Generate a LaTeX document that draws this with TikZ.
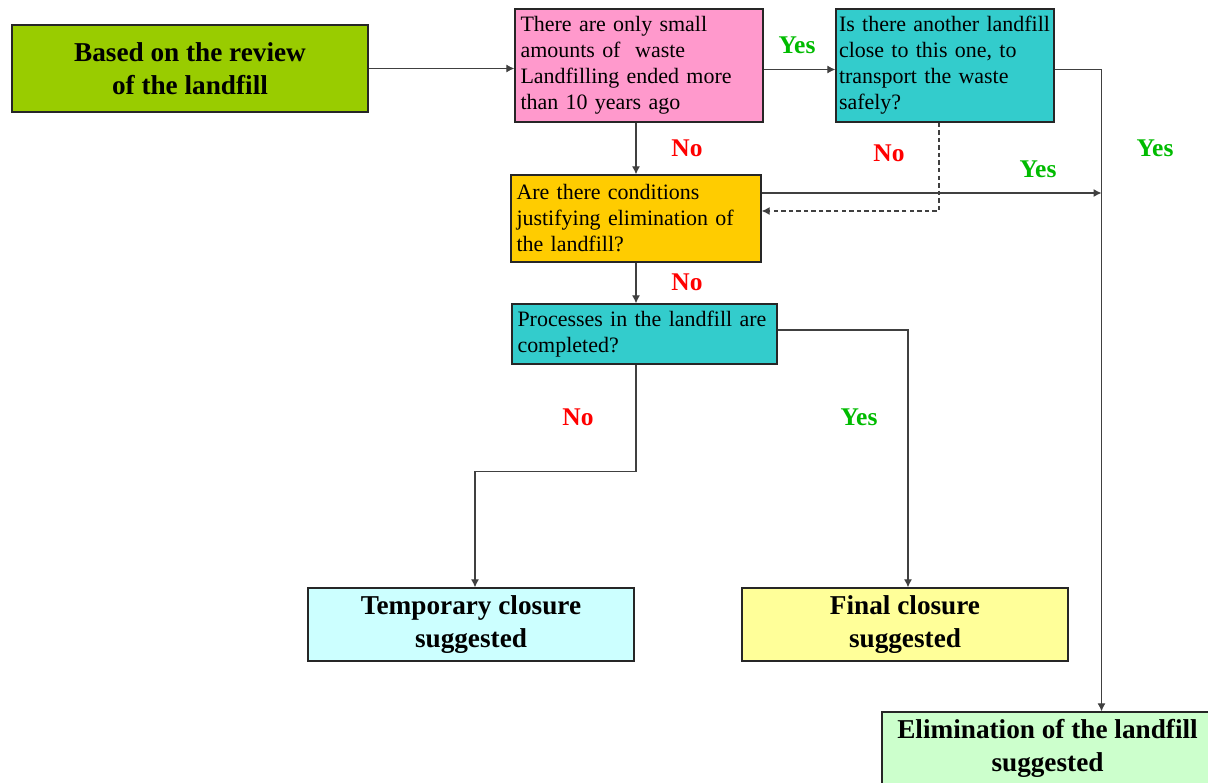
\documentclass[tikz,border=0pt]{standalone}
\usepackage{fontspec}
\setmainfont{Liberation Serif}
\usepackage{xcolor}
\usepackage{tikz}
\usetikzlibrary{arrows.meta}

\definecolor{startgreen}{HTML}{99CC00}
\definecolor{askpink}{HTML}{FF99CC}
\definecolor{askteal}{HTML}{33CCCC}
\definecolor{askorange}{HTML}{FFCC00}
\definecolor{tempblue}{HTML}{CCFFFF}
\definecolor{finalyellow}{HTML}{FFFF99}
\definecolor{elimgreen}{HTML}{CCFFCC}
\definecolor{yesgreen}{HTML}{00BB00}
\definecolor{nored}{HTML}{FF0000}

\begin{document}
\begin{tikzpicture}[font=\fontsize{12.5}{14.8}\selectfont, >={Latex[length=4.5pt,width=4.5pt]},
    box/.style={draw=black!85, line width=0.8pt, minimum height=1.74cm},
    ask/.style={box, align=left, inner xsep=0.11cm},
    result/.style={box, align=center, minimum width=6.52cm, minimum height=1.46cm,
                   font=\fontsize{15.5}{18.8}\selectfont\bfseries},
    yes/.style={text=yesgreen, font=\fontsize{14.5}{17}\selectfont\bfseries},
    no/.style={text=nored, font=\fontsize{14.5}{17}\selectfont\bfseries},
    link/.style={draw=black!75, line width=0.6pt}]
    \clip (0,0) rectangle (24.16,-15.64);

    \node[result, fill=startgreen, minimum width=7.12cm, minimum height=1.74cm]  (start)  at ( 3.80,  -1.37)  {Based on the review \\ of the landfill};

    \node[ask, fill=askpink,   text width=4.74cm, minimum height=2.26cm]  (Q1)  at (12.78, -1.31)  {There are only small \\ amounts of\ \ waste \\ Landfilling ended more \\ than 10 years ago};
    \node[ask, fill=askteal,   text width=4.24cm, inner xsep=0.06cm, minimum height=2.26cm]  (Q2)  at (18.90, -1.31)  {Is there another landfill \\ close to this one, to \\ transport the waste \\ safely?};
    \node[ask, fill=askorange, text width=4.78cm]                         (Q3)  at (12.72, -4.37)  {Are there conditions \\ justifying elimination of \\ the landfill?};
    \node[ask, fill=askteal,   text width=5.08cm, minimum height=1.20cm]  (Q4)  at (12.89, -6.68)  {Processes in the landfill are \\ completed?};

    \node[result, fill=tempblue]                        (temp)   at ( 9.42, -12.49)  {Temporary closure \\ suggested};
    \node[result, fill=finalyellow]                     (final)  at (18.10, -12.49)  {Final closure \\ suggested};
    \node[result, fill=elimgreen, minimum width=6.62cm] (elim)   at (20.95, -14.97)  {Elimination of the landfill \\ suggested};

    \coordinate (J) at (22.03, -3.86);

    \node[yes]  (y1)  at (15.94, -0.90)  {Yes};
    \node[no]   (n1)  at (13.74, -2.96)  {No};
    \node[no]   (n2)  at (17.78, -3.06)  {No};
    \node[yes]  (y2)  at (20.76, -3.38)  {Yes};
    \node[yes]  (y3)  at (23.10, -2.96)  {Yes};
    \node[no]   (n3)  at (13.74, -5.64)  {No};
    \node[no]   (n4)  at (11.56, -8.34)  {No};
    \node[yes]  (y4)  at (17.18, -8.34)  {Yes};

    \draw[link, ->] (start) -- (start -| Q1.west);
    \draw[link, ->] ([yshift=-0.08cm]Q1.east) -- ([yshift=-0.08cm]Q2.west);
    \draw[link, ->] ([yshift=-0.08cm]Q2.east) -| (J) -- (J |- elim.north);
    \draw[link, ->] (Q3.east |- J) -- (J);

    \draw[link, ->] (Q1.south -| Q3.north) -- (Q3.north);
    \draw[link, ->, dash pattern=on 2.5pt off 1.8pt] ([xshift=-0.12cm]Q2.south) |- ([yshift=0.15cm]Q3.east);
    \draw[link, ->] (Q3.south) -- (Q3.south |- Q4.north);

    \draw[link, ->] (Q3.south |- Q4.south) -- ++(0,-2.14) -| ([xshift=0.08cm]temp.north);
    \draw[link, ->] ([yshift=0.08cm]Q4.east) -| ([xshift=0.06cm]final.north);
\end{tikzpicture}
\end{document}
